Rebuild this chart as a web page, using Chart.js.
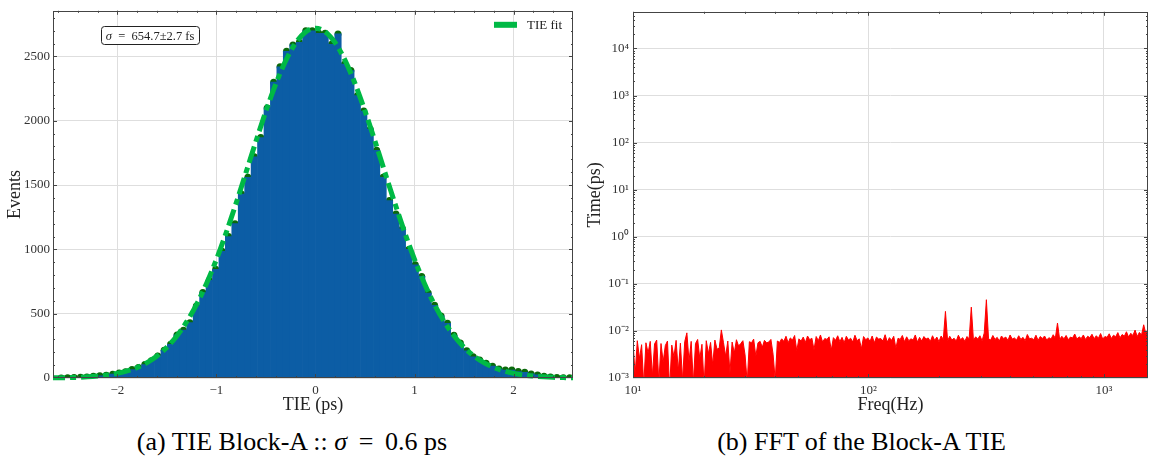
<!DOCTYPE html>
<html>
<head>
<meta charset="utf-8">
<script src="https://cdn.jsdelivr.net/npm/chart.js@4.4.1/dist/chart.umd.min.js"></script>
<style>
  body { margin: 0; background: #fff; width: 1151px; height: 472px; position: relative; overflow: hidden; font-family: "Liberation Serif", serif; }
  .panel { position: absolute; top: 0; height: 420px; }
  #left { left: 0; width: 580px; }
  #right { left: 580px; width: 571px; }
  .caption { position: absolute; top: 427px; font-size: 26px; color: #000; text-align: center; white-space: nowrap; }
</style>
</head>
<body>
<div class="panel" id="left"><canvas id="tieChart"></canvas></div>
<div class="panel" id="right"><canvas id="fftChart"></canvas></div>
<div class="caption" style="left:2px;width:580px">(a) TIE Block-A :: <i>σ</i>&thinsp; =&thinsp; 0.6 ps</div>
<div class="caption" style="left:576px;width:571px">(b) FFT of the Block-A TIE</div>

<script>
// ---- (a) TIE histogram ----
const binCenters = [
  -2.5675, -2.5025, -2.4375, -2.3725, -2.3075, -2.2425, -2.1775, -2.1125, -2.0475, -1.9825,
  -1.9175, -1.8525, -1.7875, -1.7225, -1.6575, -1.5925, -1.5275, -1.4625, -1.3975, -1.3325,
  -1.2675, -1.2025, -1.1375, -1.0725, -1.0075, -0.9425, -0.8775, -0.8125, -0.7475, -0.6825,
  -0.6175, -0.5525, -0.4875, -0.4225, -0.3575, -0.2925, -0.2275, -0.1625, -0.0975, -0.0325,
  0.0325, 0.0975, 0.1625, 0.2275, 0.2925, 0.3575, 0.4225, 0.4875, 0.5525, 0.6175,
  0.6825, 0.7475, 0.8125, 0.8775, 0.9425, 1.0075, 1.0725, 1.1375, 1.2025, 1.2675,
  1.3325, 1.3975, 1.4625, 1.5275, 1.5925, 1.6575, 1.7225, 1.7875, 1.8525, 1.9175,
  1.9825, 2.0475, 2.1125, 2.1775, 2.2425, 2.3075, 2.3725, 2.4375, 2.5025, 2.5675
];
const binCounts = [
  0, 1, 3, 5, 8, 14, 17, 21, 30, 38,
  49, 66, 82, 104, 135, 172, 216, 262, 335, 372,
  430, 560, 665, 760, 845, 985, 1100, 1200, 1430, 1560,
  1720, 1870, 2100, 2300, 2420, 2540, 2590, 2610, 2700, 2700,
  2680, 2680, 2594, 2675, 2440, 2390, 2195, 2075, 1935, 1770,
  1560, 1380, 1275, 1160, 1000, 880, 790, 660, 565, 483,
  425, 332, 272, 212, 165, 140, 115, 92, 70, 62,
  62, 50, 45, 32, 24, 14, 8, 4, 2, 1
];

// gaussian fit
const fitX = [
  -2.7, -2.6, -2.5, -2.4, -2.3, -2.2, -2.1, -2.0, -1.9, -1.8, -1.7, -1.6, -1.5, -1.4,
  -1.3, -1.2, -1.1, -1.0, -0.9, -0.8, -0.7, -0.6, -0.5, -0.4, -0.3, -0.2, -0.1, 0,
  0.1, 0.2, 0.3, 0.4, 0.5, 0.6, 0.7, 0.8, 0.9, 1.0, 1.1, 1.2, 1.3, 1.4,
  1.5, 1.6, 1.7, 1.8, 1.9, 2.0, 2.1, 2.2, 2.3, 2.4, 2.5, 2.6, 2.7
];
const fitY = [
  1, 2, 3, 5, 9, 15, 23, 36, 55, 82, 120, 171, 239, 327,
  438, 573, 735, 922, 1133, 1362, 1601, 1843, 2076, 2288, 2468, 2605, 2691, 2720,
  2691, 2605, 2468, 2288, 2076, 1843, 1601, 1362, 1133, 922, 735, 573, 438, 327,
  239, 171, 120, 82, 55, 36, 23, 15, 9, 5, 3, 2, 1
];

const tieXTicks = [-2, -1, 0, 1, 2];
const tieYTicks = [0, 500, 1000, 1500, 2000, 2500];
const sigmaText = "654.7\u00b12.7 fs";
const fitLabel = "TIE fit";

// ---- (b) FFT of the TIE, amplitude in units of 1e-3 ps on a log-spaced grid ----
const fftStart = 10;
const fftEnd = 1540;
const fftAmp = [
  5.8, 1.2, 6.2, 2.6, 5.1, 0.7, 5.6, 3.4, 6.0, 1.1,
  5.3, 6.4, 0.8, 5.4, 2.2, 4.9, 6.1, 0.6, 5.0, 2.8,
  6.3, 1.4, 5.5, 0.9, 5.9, 9.1, 2.3, 6.0, 0.8, 5.4,
  6.6, 2.6, 5.2, 0.7, 6.2, 3.3, 5.7, 1.9, 6.4, 4.1,
  4.3, 10.5, 5.6, 2.9, 6.1, 1.3, 5.8, 3.4, 6.5, 4.8,
  5.4, 6.2, 3.1, 0.8, 5.9, 5.6, 6.7, 2.9, 5.6, 6.0,
  4.5, 6.3, 5.6, 5.8, 6.6, 3.2, 0.9, 6.1, 5.7, 6.8,
  6.0, 7.7, 5.6, 7.1, 6.4, 8.0, 3.8, 6.8, 6.1, 7.4,
  5.7, 7.8, 6.5, 7.0, 4.0, 7.6, 6.2, 8.2, 5.8, 6.9,
  6.6, 7.5, 3.9, 7.2, 6.3, 7.9, 5.9, 7.3, 5.6, 7.7,
  6.4, 7.0, 5.8, 8.1, 6.2, 6.8, 4.2, 7.6, 6.5, 7.1,
  6.0, 7.8, 5.6, 7.4, 6.7, 6.9, 6.1, 8.3, 5.8, 7.2,
  6.3, 7.7, 4.3, 7.0, 6.6, 8.0, 5.9, 7.5, 6.2, 6.8,
  6.4, 8.2, 5.8, 7.3, 6.1, 7.6, 6.7, 7.1, 6.0, 7.9,
  6.3, 7.4, 5.9, 7.8, 6.6, 26, 6.2, 7.7, 6.4, 7.0,
  6.1, 8.1, 6.5, 7.2, 6.0, 7.6, 6.8, 32, 6.3, 7.5,
  6.7, 7.9, 6.2, 9.0, 46, 6.8, 6.4, 8.0, 6.6, 7.3,
  6.1, 7.8, 6.9, 7.4, 6.3, 8.2, 6.7, 7.1, 6.4, 7.9,
  6.6, 7.3, 6.2, 8.4, 6.8, 7.0, 6.5, 8.1, 6.3, 7.6,
  6.9, 7.8, 6.4, 7.2, 6.7, 8.3, 7.0, 14.7, 6.6, 7.7,
  6.8, 8.0, 6.5, 7.4, 7.1, 8.6, 6.7, 7.5, 6.9, 8.2,
  6.6, 7.7, 7.2, 8.5, 6.8, 7.9, 7.0, 8.8, 6.7, 7.6,
  7.3, 8.7, 6.9, 8.1, 7.5, 9.2, 7.1, 8.4, 7.7, 9.6,
  7.4, 8.9, 8.0, 10.4, 7.6, 9.3, 8.2, 13.5, 8.7, 11.0
];
const fftXTicks = [10, 100, 1000];
const fftYTicks = [1e-3, 1e-2, 1e-1, 1, 10, 100, 1000, 10000];

// colours (science style)
const blue = "#0C5DA5";
const green = "#00B945";
const darkGreen = "#0a6a0a";
const red = "#ff0000";
const gridColor = "#dedede";
const serif = '"Liberation Serif", "Times New Roman", serif';

Chart.defaults.font.family = serif;
Chart.defaults.color = "#333";

// superscript exponent for log tick labels
const supMap = { "-": "\u207b", "0": "\u2070", "1": "\u00b9", "2": "\u00b2", "3": "\u00b3", "4": "\u2074", "5": "\u2075" };
function pow10Label(v) {
  const e = String(Math.round(Math.log10(v)));
  return "10" + e.split("").map((c) => supMap[c]).join("");
}

// minor tick helpers
function linearMinor(min, max, step) {
  const out = [];
  for (let v = Math.ceil(min / step) * step; v <= max + 1e-9; v += step) out.push(v);
  return out;
}
function logMinor(e0, e1) {
  const out = [];
  for (let e = e0; e <= e1; e++) {
    for (let m = 2; m <= 9; m++) out.push(m * Math.pow(10, e));
  }
  return out;
}

// inward ticks on all four sides plus the frame
const frameTicks = {
  id: "frameTicks",
  afterDatasetsDraw(chart, args, opts) {
    const { ctx, chartArea: a } = chart;
    const xs = chart.scales.x;
    const ys = chart.scales.y;
    ctx.save();
    ctx.strokeStyle = "#444";
    ctx.lineWidth = 1;
    ctx.beginPath();
    const mark = (scale, values, len) => {
      values.forEach((v) => {
        const p = Math.round(scale.getPixelForValue(v)) + 0.5;
        if (scale.isHorizontal()) {
          if (p < a.left || p > a.right) return;
          ctx.moveTo(p, a.bottom);
          ctx.lineTo(p, a.bottom - len);
          ctx.moveTo(p, a.top);
          ctx.lineTo(p, a.top + len);
        } else {
          if (p < a.top || p > a.bottom) return;
          ctx.moveTo(a.left, p);
          ctx.lineTo(a.left + len, p);
          ctx.moveTo(a.right, p);
          ctx.lineTo(a.right - len, p);
        }
      });
    };
    mark(xs, opts.xMajor, 4);
    mark(xs, opts.xMinor, 2);
    mark(ys, opts.yMajor, 4);
    mark(ys, opts.yMinor, 2);
    ctx.stroke();
    ctx.strokeRect(Math.round(a.left) + 0.5, Math.round(a.top) + 0.5, Math.round(a.width) - 1, Math.round(a.height) - 1);
    ctx.restore();
  },
};

// the rounded sigma box and the fit legend of panel (a)
const panelNotes = {
  id: "panelNotes",
  afterDraw(chart, args, opts) {
    const { ctx, chartArea: a } = chart;
    const cx = chart.scales.x.getPixelForValue(opts.boxAt[0]);
    const cy = chart.scales.y.getPixelForValue(opts.boxAt[1]);
    ctx.save();
    ctx.font = "italic 12.5px " + serif;
    const w1 = ctx.measureText("\u03c3").width;
    ctx.font = "12.5px " + serif;
    const rest = "  =  " + sigmaText;
    const w2 = ctx.measureText(rest).width;
    const w = w1 + w2 + 10;
    const h = 18;
    const x0 = cx - w / 2;
    const y0 = cy - h / 2;
    ctx.beginPath();
    ctx.roundRect(Math.round(x0) + 0.5, Math.round(y0) + 0.5, Math.round(w), h, 3);
    ctx.fillStyle = "#fff";
    ctx.fill();
    ctx.strokeStyle = "#222";
    ctx.lineWidth = 1;
    ctx.stroke();
    ctx.fillStyle = "#222";
    ctx.textBaseline = "middle";
    ctx.font = "italic 12.5px " + serif;
    ctx.fillText("\u03c3", x0 + 5, cy + 1);
    ctx.font = "12.5px " + serif;
    ctx.fillText(rest, x0 + 5 + w1, cy + 1);

    // legend, top right inside the axes
    ctx.font = "13px " + serif;
    const tw = ctx.measureText(fitLabel).width;
    const tx = a.right - 11 - tw;
    const ly = a.top + 14;
    ctx.fillStyle = green;
    ctx.fillRect(tx - 33, ly - 3, 23, 6);
    ctx.fillStyle = "#222";
    ctx.fillText(fitLabel, tx, ly + 1);
    ctx.restore();
  },
};

const tickFont = { size: 13, family: serif };
const titleFont = { size: 18, family: serif };

// panel (a)
new Chart(document.getElementById("tieChart"), {
  type: "bar",
  data: {
    datasets: [
      {
        type: "line",
        label: "TIE fit",
        data: fitX.map((x, i) => ({ x: x, y: fitY[i] })),
        borderColor: green,
        backgroundColor: green,
        borderWidth: 5,
        borderDash: [17, 5, 6, 5],
        pointRadius: 0,
        cubicInterpolationMode: "monotone",
        clip: { left: 0, right: 0, top: 0, bottom: 3 },
        order: 0,
      },
      {
        type: "bar",
        label: "TIE",
        data: binCenters.map((x, i) => ({ x: x, y: binCounts[i] })),
        backgroundColor: blue,
        barPercentage: 1,
        categoryPercentage: 1,
        borderWidth: 0,
        order: 1,
      },
      {
        type: "line",
        label: "counts",
        data: binCenters.map((x, i) => ({ x: x, y: binCounts[i] })),
        showLine: false,
        pointRadius: 3.5,
        pointBackgroundColor: darkGreen,
        pointBorderWidth: 0,
        order: 2,
      },
    ],
  },
  options: {
    responsive: true,
    maintainAspectRatio: false,
    animation: false,
    layout: { padding: { left: 0, right: 7, top: 1, bottom: 0 } },
    scales: {
      x: {
        type: "linear",
        min: -2.65,
        max: 2.6,
        offset: false,
        grid: { color: gridColor, drawTicks: false, offset: false },
        border: { display: false },
        afterBuildTicks: (s) => { s.ticks = tieXTicks.map((v) => ({ value: v })); },
        ticks: {
          padding: 5,
          maxRotation: 0,
          font: tickFont,
          callback: (v) => (v < 0 ? "\u2212" + Math.abs(v) : String(v)),
        },
        title: { display: true, text: "TIE (ps)", font: titleFont, color: "#222", padding: { top: 0, bottom: 4 } },
        afterFit: (s) => { s.height = 42; },
      },
      y: {
        min: 0,
        max: 2855,
        grid: { color: gridColor, drawTicks: false },
        border: { display: false },
        afterBuildTicks: (s) => { s.ticks = tieYTicks.map((v) => ({ value: v })); },
        ticks: { padding: 3, font: tickFont, callback: (v) => String(v) },
        title: { display: true, text: "Events", font: titleFont, color: "#222", padding: { top: 4, bottom: 0 } },
        afterFit: (s) => { s.width = 53; },
      },
    },
    plugins: {
      tooltip: { enabled: false },
      legend: { display: false },
      frameTicks: {
        xMajor: tieXTicks,
        xMinor: linearMinor(-2.6, 2.6, 0.2),
        yMajor: tieYTicks,
        yMinor: linearMinor(0, 2855, 100),
      },
      panelNotes: { boxAt: [-1.67, 2665] },
    },
  },
  plugins: [frameTicks, panelNotes],
});

// panel (b)
const fftFreq = fftAmp.map((_, i) => fftStart * Math.pow(fftEnd / fftStart, i / (fftAmp.length - 1)));

new Chart(document.getElementById("fftChart"), {
  type: "line",
  data: {
    datasets: [
      {
        label: "FFT",
        data: fftFreq.map((f, i) => ({ x: f, y: fftAmp[i] * 1e-3 })),
        borderColor: red,
        backgroundColor: red,
        borderWidth: 1,
        pointRadius: 0,
        fill: "start",
        tension: 0,
        clip: 0,
      },
    ],
  },
  options: {
    responsive: true,
    maintainAspectRatio: false,
    animation: false,
    layout: { padding: { left: 0, right: 3, top: 1, bottom: 0 } },
    scales: {
      x: {
        type: "logarithmic",
        min: fftStart,
        max: fftEnd,
        grid: { color: gridColor, drawTicks: false },
        border: { display: false },
        afterBuildTicks: (s) => { s.ticks = fftXTicks.map((v) => ({ value: v })); },
        ticks: { padding: 5, maxRotation: 0, font: tickFont, callback: (v) => pow10Label(v) },
        title: { display: true, text: "Freq(Hz)", font: titleFont, color: "#222", padding: { top: 0, bottom: 4 } },
        afterFit: (s) => { s.height = 42; },
      },
      y: {
        type: "logarithmic",
        min: 1e-3,
        max: 6e4,
        grid: { color: gridColor, drawTicks: false },
        border: { display: false },
        afterBuildTicks: (s) => { s.ticks = fftYTicks.map((v) => ({ value: v })); },
        ticks: { padding: 4, font: tickFont, callback: (v) => pow10Label(v) },
        title: { display: true, text: "Time(ps)", font: titleFont, color: "#222", padding: { top: 4, bottom: 0 } },
        afterFit: (s) => { s.width = 53; },
      },
    },
    plugins: {
      tooltip: { enabled: false },
      legend: { display: false },
      frameTicks: {
        xMajor: fftXTicks,
        xMinor: logMinor(1, 3),
        yMajor: fftYTicks,
        yMinor: logMinor(-3, 4),
      },
    },
  },
  plugins: [frameTicks],
});
</script>
</body>
</html>
